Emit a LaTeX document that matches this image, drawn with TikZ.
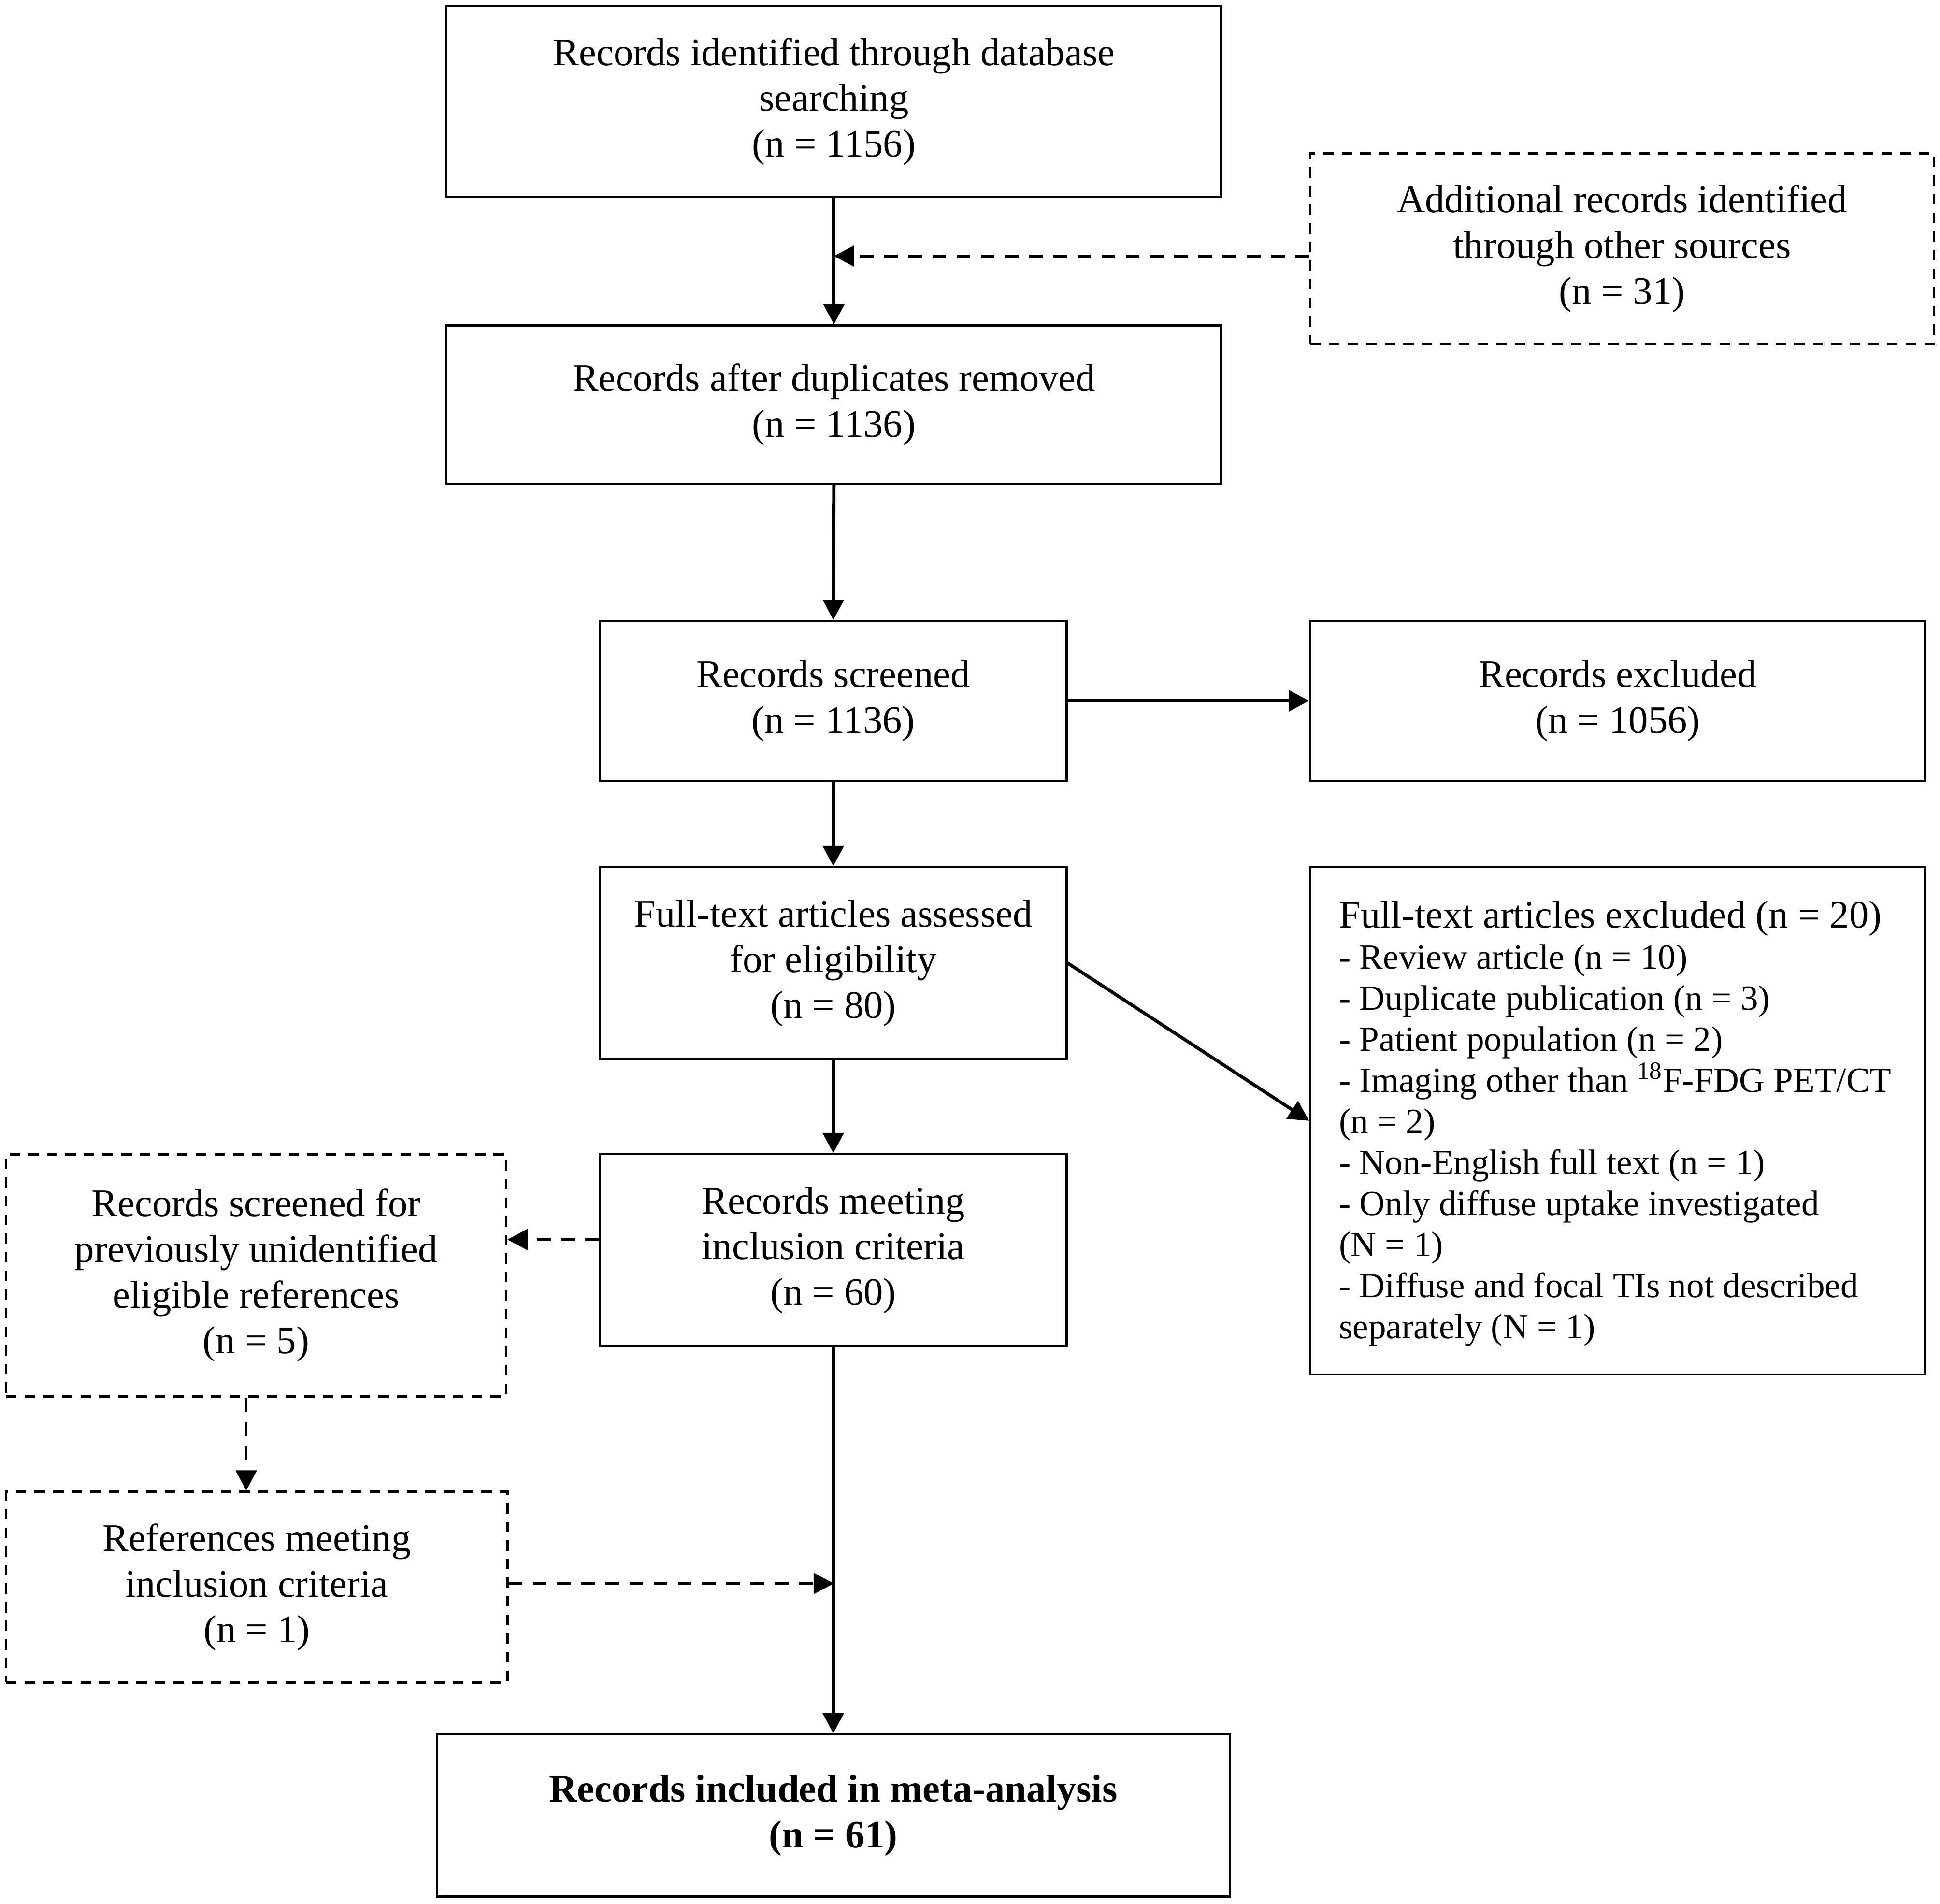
\documentclass[tikz,border=0pt]{standalone}
\usepackage{fontspec}
\setmainfont{Liberation Serif}
\usetikzlibrary{arrows.meta}
\begin{document}
\begin{tikzpicture}[x=0.025cm,y=-0.025cm,
  box/.style={draw,line width=1.2pt,align=center,inner sep=0pt,font=\fontsize{22.4}{26.3}\selectfont},
  dbox/.style={box,line width=1.5pt,dash pattern=on 6pt off 4.7pt},
  conn/.style={line width=1.9pt,-{Triangle[length=0.41cm,width=0.42cm]}},
  dconn/.style={conn,line width=1.6pt,dash pattern=on 7.9pt off 6pt}]
\useasboundingbox (0,0) rectangle (1568,1539);
\node[box,minimum width=15.65cm,minimum height=3.85cm] (b1) at (674,82) {Records identified through database\\searching\\(n = 1156)};
\node[dbox,minimum width=12.6cm,minimum height=3.85cm] (b2) at (1311,201) {Additional records identified\\through other sources\\(n = 31)};
\node[box,minimum width=15.65cm,minimum height=3.2cm] (b3) at (674,327) {Records after duplicates removed\\(n = 1136)};
\node[box,minimum width=9.425cm,minimum height=3.225cm] (b4) at (673.5,566.5) {Records screened\\(n = 1136)};
\node[box,minimum width=12.425cm,minimum height=3.225cm] (b5) at (1307.5,566.5) {Records excluded\\(n = 1056)};
\node[box,minimum width=9.425cm,minimum height=3.875cm] (b6) at (673.5,778.5) {Full-text articles assessed\\for eligibility\\(n = 80)};
\node[box,minimum width=12.425cm,minimum height=10.25cm] (b7) at (1307.5,906) {};
\node[align=left,inner sep=0pt,anchor=west,font=\fontsize{20.3}{23.6}\selectfont] (b7t) at (1082,908) {{\fontsize{22.4}{23.6}\selectfont Full-text articles excluded (n = 20)}\\- Review article (n = 10)\\- Duplicate publication (n = 3)\\- Patient population (n = 2)\\- Imaging other than \textsuperscript{18}F-FDG PET/CT\\(n = 2)\\- Non-English full text (n = 1)\\- Only diffuse uptake investigated\\(N = 1)\\- Diffuse and focal TIs not described\\separately (N = 1)};
\node[box,minimum width=9.425cm,minimum height=3.875cm] (b8) at (673.5,1010.5) {Records meeting\\inclusion criteria\\(n = 60)};
\node[dbox,minimum width=10.1cm,minimum height=4.9cm] (b9) at (207,1031) {Records screened for\\previously unidentified\\eligible references\\(n = 5)};
\node[dbox,minimum width=10.125cm,minimum height=3.85cm] (b10) at (207.5,1283) {References meeting\\inclusion criteria\\(n = 1)};
\node[box,minimum width=16.025cm,minimum height=3.275cm,font=\fontsize{22.4}{26.3}\selectfont\bfseries] (b11) at (673.5,1467.5) {Records included in meta-analysis\\(n = 61)};
\coordinate (m1) at (674,207);
\coordinate (m2) at (674,1280);
\draw[conn] (b1.south) -- (b3.north);
\draw[dconn] (b2.west |- m1) -- (m1);
\draw[conn] (b3.south) -- (b4.north);
\draw[conn] (b4.east) -- (b5.west);
\draw[conn] (b4.south) -- (b6.north);
\draw[conn] (b6.east) -- (b7.west);
\draw[conn] (b6.south) -- (b8.north);
\draw[dconn] (b8.west |- 0,1002) -- (b9.east |- 0,1002);
\draw[dconn] (b9.south -| 199,0) -- (b10.north -| 199,0);
\draw[dconn] (b10.east |- m2) -- (m2);
\draw[conn] (b8.south) -- (b11.north);
\end{tikzpicture}
\end{document}
